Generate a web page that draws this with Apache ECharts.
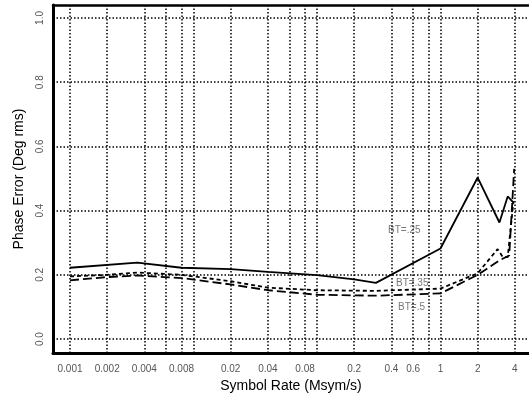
<!DOCTYPE html>
<html>
<head>
<meta charset="utf-8">
<script src="https://cdn.jsdelivr.net/npm/echarts@6/dist/echarts.min.js"></script>
<style>
html,body{margin:0;padding:0;background:#fff;}
#chart{width:529px;height:398px;}
</style>
</head>
<body>
<div id="chart"></div>
<script>
// ---- data ----
var xTickLabels = ['0.001','0.002','0.004','0.008','0.02','0.04','0.08','0.2','0.4','0.6','1','2','4'];
var xGridValues = [0.001,0.002,0.004,0.006,0.008,0.01,0.02,0.04,0.06,0.08,0.1,0.2,0.4,0.6,0.8,1,2,4];
var yTickValues = [0, 0.2, 0.4, 0.6, 0.8, 1.0];

var rateBT25 = [0.001, 0.0035, 0.008, 0.02, 0.04, 0.1, 0.2, 0.3, 1, 2, 3, 3.5, 3.9];
var errBT25  = [0.222, 0.238, 0.222, 0.218, 0.209, 0.199, 0.186, 0.175, 0.282, 0.503, 0.363, 0.444, 0.425];

var rateBT35 = [0.001, 0.002, 0.0035, 0.008, 0.02, 0.04, 0.1, 0.3, 1, 2, 2.9, 3.2, 3.5, 3.9];
var errBT35  = [0.195, 0.200, 0.207, 0.200, 0.180, 0.160, 0.152, 0.150, 0.157, 0.205, 0.280, 0.255, 0.255, 0.430];

var rateBT5  = [0.001, 0.002, 0.0035, 0.008, 0.02, 0.04, 0.1, 0.3, 1, 2, 3, 3.6, 3.95];
var errBT5   = [0.183, 0.193, 0.198, 0.190, 0.170, 0.152, 0.138, 0.135, 0.142, 0.200, 0.245, 0.260, 0.530];

var annoText = ['BT=.25', 'BT=.35', 'BT=.5'];
var annoRate = [0.376, 0.436, 0.453];
var annoErr  = [0.3385, 0.174, 0.0994];

// ---- build ----
function lg(v){ return Math.log10(v); }
function pairs(xs, ys){ return xs.map(function(x,i){ return [lg(x), ys[i]]; }); }
var xLabelVals = xTickLabels.map(function(s){ return lg(parseFloat(s)); });

var chart = echarts.init(document.getElementById('chart'), null, {renderer:'canvas'});
var gridDot = {color:'#000', width:1.5, type:[1.5,2]};
var option = {
  animation:false,
  backgroundColor:'#fff',
  grid:{left:53, right:0, top:5, bottom:45, containLabel:false},
  xAxis:[{
    type:'value', min:-3.1377, max:0.7166,
    name:'Symbol Rate (Msym/s)', nameLocation:'middle', nameGap:23,
    nameTextStyle:{color:'#000', fontSize:14, fontFamily:'Liberation Sans'},
    axisLine:{show:true, onZero:false, lineStyle:{color:'#000', width:3}},
    axisTick:{show:false, customValues:xGridValues.map(lg)},
    axisLabel:{show:true, customValues:xLabelVals, margin:11, color:'#555', fontSize:10, fontFamily:'Liberation Sans',
      formatter:function(v){ var best=0,bd=1e9; xLabelVals.forEach(function(t,i){var d=Math.abs(t-v); if(d<bd){bd=d;best=i;}}); return xTickLabels[best]; }},
    splitLine:{show:true, lineStyle:gridDot}
  },{
    type:'value', position:'top', min:-3.1377, max:0.7166,
    axisLine:{show:true, onZero:false, lineStyle:{color:'#000', width:2.5}},
    axisTick:{show:false}, axisLabel:{show:false}, splitLine:{show:false}
  }],
  yAxis:{
    type:'value', min:-0.0435, max:1.0404,
    name:'Phase Error (Deg rms)', nameLocation:'middle', nameGap:27,
    nameTextStyle:{color:'#000', fontSize:14, fontFamily:'Liberation Sans'},
    axisLine:{show:true, onZero:false, lineStyle:{color:'#000', width:3}},
    axisTick:{show:false, customValues:yTickValues},
    axisLabel:{show:true, customValues:yTickValues, rotate:90, margin:8, color:'#555', fontSize:10, fontFamily:'Liberation Sans',
      formatter:function(v){ return v.toFixed(1); }},
    splitLine:{show:true, lineStyle:gridDot}
  },
  series:[
    {type:'line', name:'BT=.25', data:pairs(rateBT25, errBT25), showSymbol:false,
     lineStyle:{color:'#000', width:1.8, type:'solid'}},
    {type:'line', name:'BT=.35', data:pairs(rateBT35, errBT35), showSymbol:false,
     lineStyle:{color:'#000', width:1.8, type:[4,3]}},
    {type:'line', name:'BT=.5', data:pairs(rateBT5, errBT5), showSymbol:false,
     lineStyle:{color:'#000', width:1.8, type:[9,4]}},
    {type:'scatter', symbolSize:0, silent:true,
     data:annoText.map(function(t,i){ return {name:t, value:[lg(annoRate[i]), annoErr[i]]}; }),
     label:{show:true, position:'right', distance:0, formatter:'{b}', color:'#555', fontSize:10, fontFamily:'Liberation Sans'}}
  ]
};
chart.setOption(option);
</script>
</body>
</html>
